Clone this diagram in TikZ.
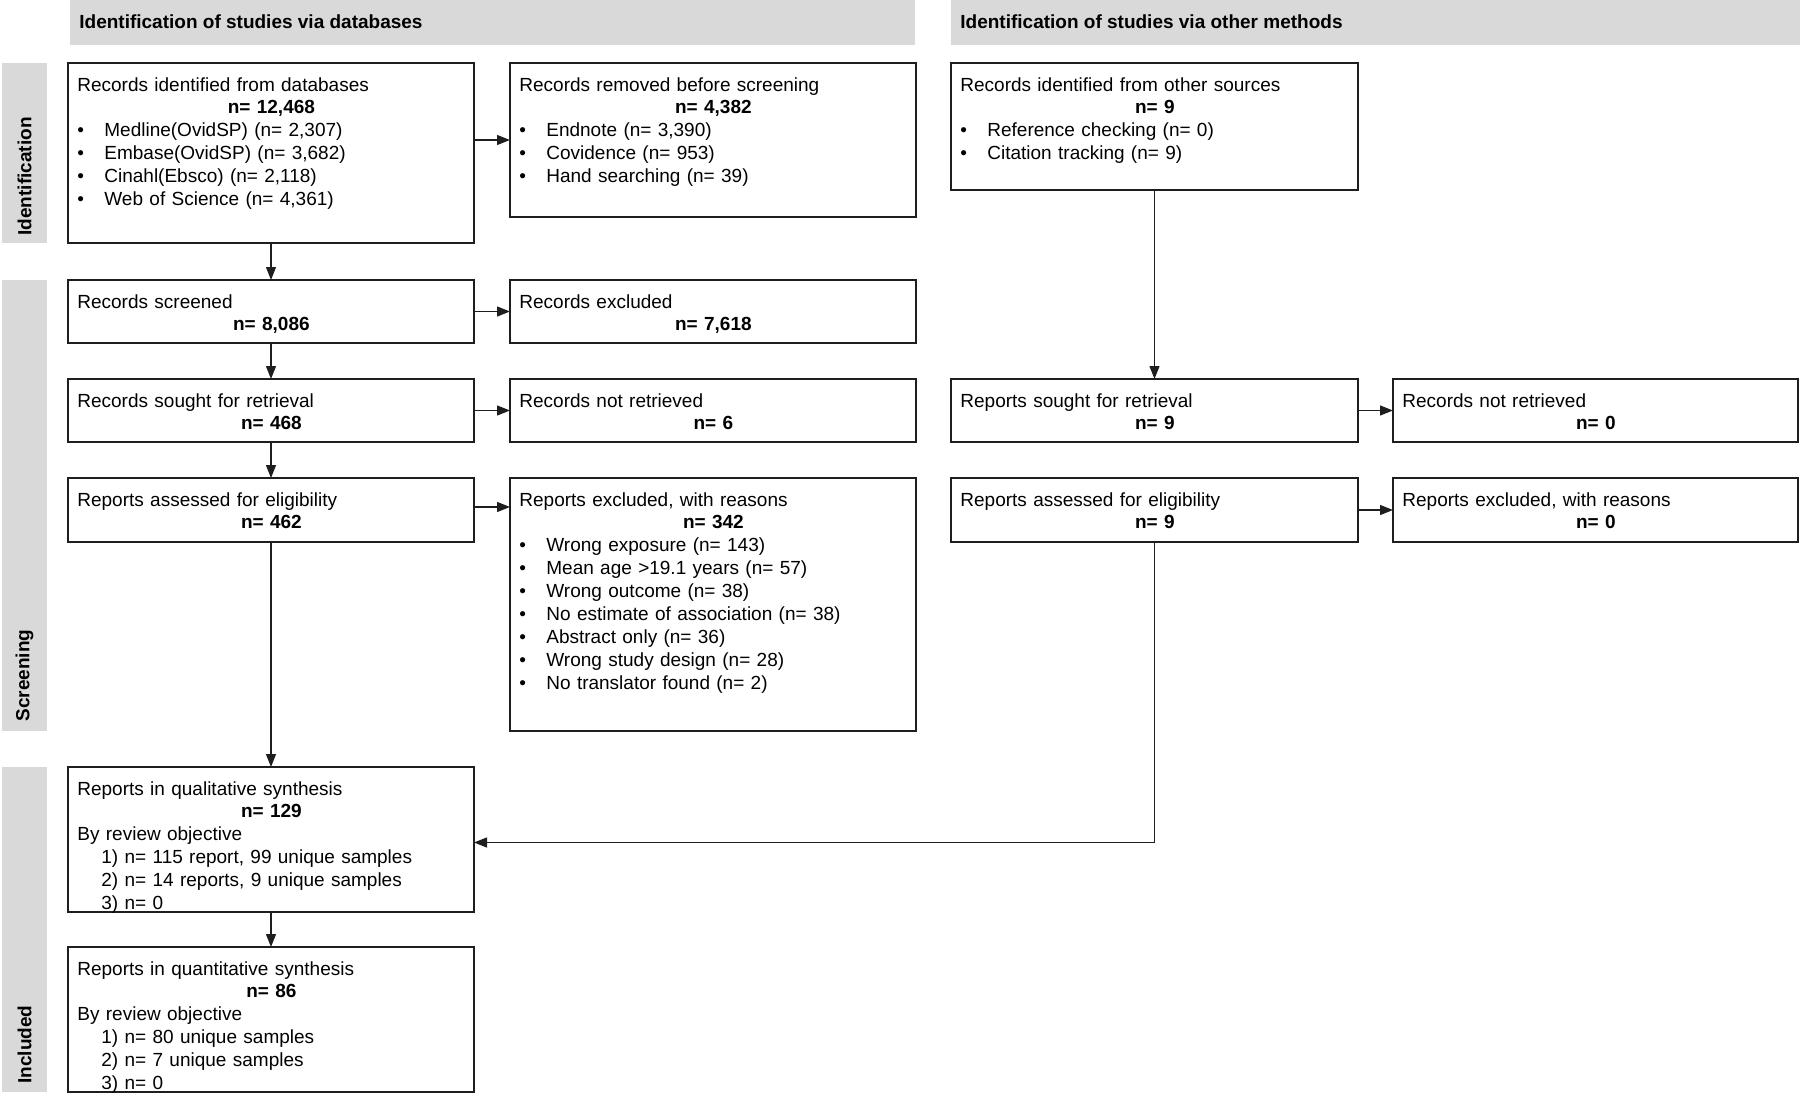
\documentclass[tikz,border=0pt]{standalone}
\usepackage{fontspec}
\setmainfont{Liberation Sans}
\usetikzlibrary{arrows.meta,calc}
\definecolor{bandgray}{HTML}{D9D9D9}
\definecolor{linecol}{HTML}{1E1E1E}
\newcommand{\nval}[1]{\par{\centering\bfseries #1\par}}
\newcommand{\bitem}[1]{\par\makebox[13.5pt][l]{\textbullet}#1}
\newcommand{\oitem}[1]{\par\hspace*{12pt}#1}
\tikzset{
  box/.style={draw=linecol, line width=1pt, anchor=north west, inner sep=0pt, outer sep=0pt},
  txt/.style={anchor=base west, inner sep=0pt, text width=194pt, font=\fontsize{9.5}{11.45}\selectfont},
  band/.style={fill=bandgray, draw=none, inner sep=0pt, outer sep=0pt, anchor=north west},
  hdr/.style={anchor=west, inner sep=0pt, font=\fontsize{9.5}{11.45}\selectfont\bfseries},
  side/.style={rotate=90, anchor=west, inner sep=0pt, font=\fontsize{9.5}{11.45}\selectfont\bfseries},
  arr/.style={line width=0.65pt, draw=linecol, -{Triangle[length=6.5pt,width=5pt]}},
}
\begin{document}
\begin{tikzpicture}[x=0.5pt,y=-0.5pt]
\useasboundingbox (0,0) rectangle (1800,1094);
% header bands
\node[band, minimum width=422.5pt, minimum height=22.5pt] (hdrL) at (70,0) {};
\node[band, minimum width=424.5pt, minimum height=22.5pt] (hdrR) at (951,0) {};
\node[hdr] (hdrLt) at (79,22) {Identification of studies via databases};
\node[hdr] (hdrRt) at (960,22) {Identification of studies via other methods};
% side bands
\node[band, minimum width=22.5pt, minimum height=90pt] (s1) at (2,63) {};
\node[band, minimum width=22.5pt, minimum height=225.5pt] (s2) at (2,280) {};
\node[band, minimum width=22.5pt, minimum height=162.5pt] (s3) at (2,767) {};
\node[side] (s1t) at (24.5,236) {Identification};
\node[side] (s2t) at (24.5,722) {Screening};
\node[side] (s3t) at (24.5,1084) {Included};
% boxes
\node[box, minimum width=203pt, minimum height=90pt] (a1) at (68,63) {};
\node[box, minimum width=203pt, minimum height=77pt] (b1) at (510,63) {};
\node[box, minimum width=203.5pt, minimum height=63.5pt] (c1) at (951,63) {};
\node[box, minimum width=203pt, minimum height=31.5pt] (a2) at (68,280) {};
\node[box, minimum width=203pt, minimum height=31.5pt] (b2) at (510,280) {};
\node[box, minimum width=203pt, minimum height=31.5pt] (a3) at (68,379) {};
\node[box, minimum width=203pt, minimum height=31.5pt] (b3) at (510,379) {};
\node[box, minimum width=203.5pt, minimum height=31.5pt] (c3) at (951,379) {};
\node[box, minimum width=202.5pt, minimum height=31.5pt] (d3) at (1393,379) {};
\node[box, minimum width=203pt, minimum height=32pt] (a4) at (68,478) {};
\node[box, minimum width=203pt, minimum height=126.5pt] (b4) at (510,478) {};
\node[box, minimum width=203.5pt, minimum height=32pt] (c4) at (951,478) {};
\node[box, minimum width=202.5pt, minimum height=32pt] (d4) at (1393,478) {};
\node[box, minimum width=203pt, minimum height=72.5pt] (a5) at (68,767) {};
\node[box, minimum width=203pt, minimum height=72.5pt] (a6) at (68,947) {};
% texts
\node[txt] (a1t) at (77,91) {Records identified from databases\nval{n= 12,468}\bitem{Medline(OvidSP) (n= 2,307)}\bitem{Embase(OvidSP) (n= 3,682)}\bitem{Cinahl(Ebsco) (n= 2,118)}\bitem{Web of Science (n= 4,361)}};
\node[txt] (b1t) at (519,91) {Records removed before screening\nval{n= 4,382}\bitem{Endnote (n= 3,390)}\bitem{Covidence (n= 953)}\bitem{Hand searching (n= 39)}};
\node[txt, text width=194.5pt] (c1t) at (960,91) {Records identified from other sources\nval{n= 9}\bitem{Reference checking (n= 0)}\bitem{Citation tracking (n= 9)}};
\node[txt] (a2t) at (77,308) {Records screened\nval{n= 8,086}};
\node[txt] (b2t) at (519,308) {Records excluded\nval{n= 7,618}};
\node[txt] (a3t) at (77,407) {Records sought for retrieval\nval{n= 468}};
\node[txt] (b3t) at (519,407) {Records not retrieved\nval{n= 6}};
\node[txt, text width=194.5pt] (c3t) at (960,407) {Reports sought for retrieval\nval{n= 9}};
\node[txt, text width=193.5pt] (d3t) at (1402,407) {Records not retrieved\nval{n= 0}};
\node[txt] (a4t) at (77,506) {Reports assessed for eligibility\nval{n= 462}};
\node[txt] (b4t) at (519,506) {Reports excluded, with reasons\nval{n= 342}\bitem{Wrong exposure (n= 143)}\bitem{Mean age >19.1 years (n= 57)}\bitem{Wrong outcome (n= 38)}\bitem{No estimate of association (n= 38)}\bitem{Abstract only (n= 36)}\bitem{Wrong study design (n= 28)}\bitem{No translator found (n= 2)}};
\node[txt, text width=194.5pt] (c4t) at (960,506) {Reports assessed for eligibility\nval{n= 9}};
\node[txt, text width=193.5pt] (d4t) at (1402,506) {Reports excluded, with reasons\nval{n= 0}};
\node[txt] (a5t) at (77,795) {Reports in qualitative synthesis\nval{n= 129}\par By review objective\oitem{1) n= 115 report, 99 unique samples}\oitem{2) n= 14 reports, 9 unique samples}\oitem{3) n= 0}};
\node[txt] (a6t) at (77,975) {Reports in quantitative synthesis\nval{n= 86}\par By review objective\oitem{1) n= 80 unique samples}\oitem{2) n= 7 unique samples}\oitem{3) n= 0}};
% connectors
\draw[arr] (a1.south) -- (a2.north);
\draw[arr] (a2.south) -- (a3.north);
\draw[arr] (a3.south) -- (a4.north);
\draw[arr] (a4.south) -- (a5.north);
\draw[arr] (a5.south) -- (a6.north);
\draw[arr] (a1.east |- b1.west) -- (b1.west);
\draw[arr] (a2.east) -- (b2.west);
\draw[arr] (a3.east) -- (b3.west);
\draw[arr] ($(a4.east)+(0,-3)$) -- ($(a4.east -| b4.west)+(0,-3)$);
\draw[arr] (c1.south) -- (c3.north);
\draw[arr] (c3.east) -- (d3.west);
\draw[arr] (c4.east) -- (d4.west);
\draw[arr] (c4.south) |- ($(a5.east)+(0,3)$);
\end{tikzpicture}
\end{document}
